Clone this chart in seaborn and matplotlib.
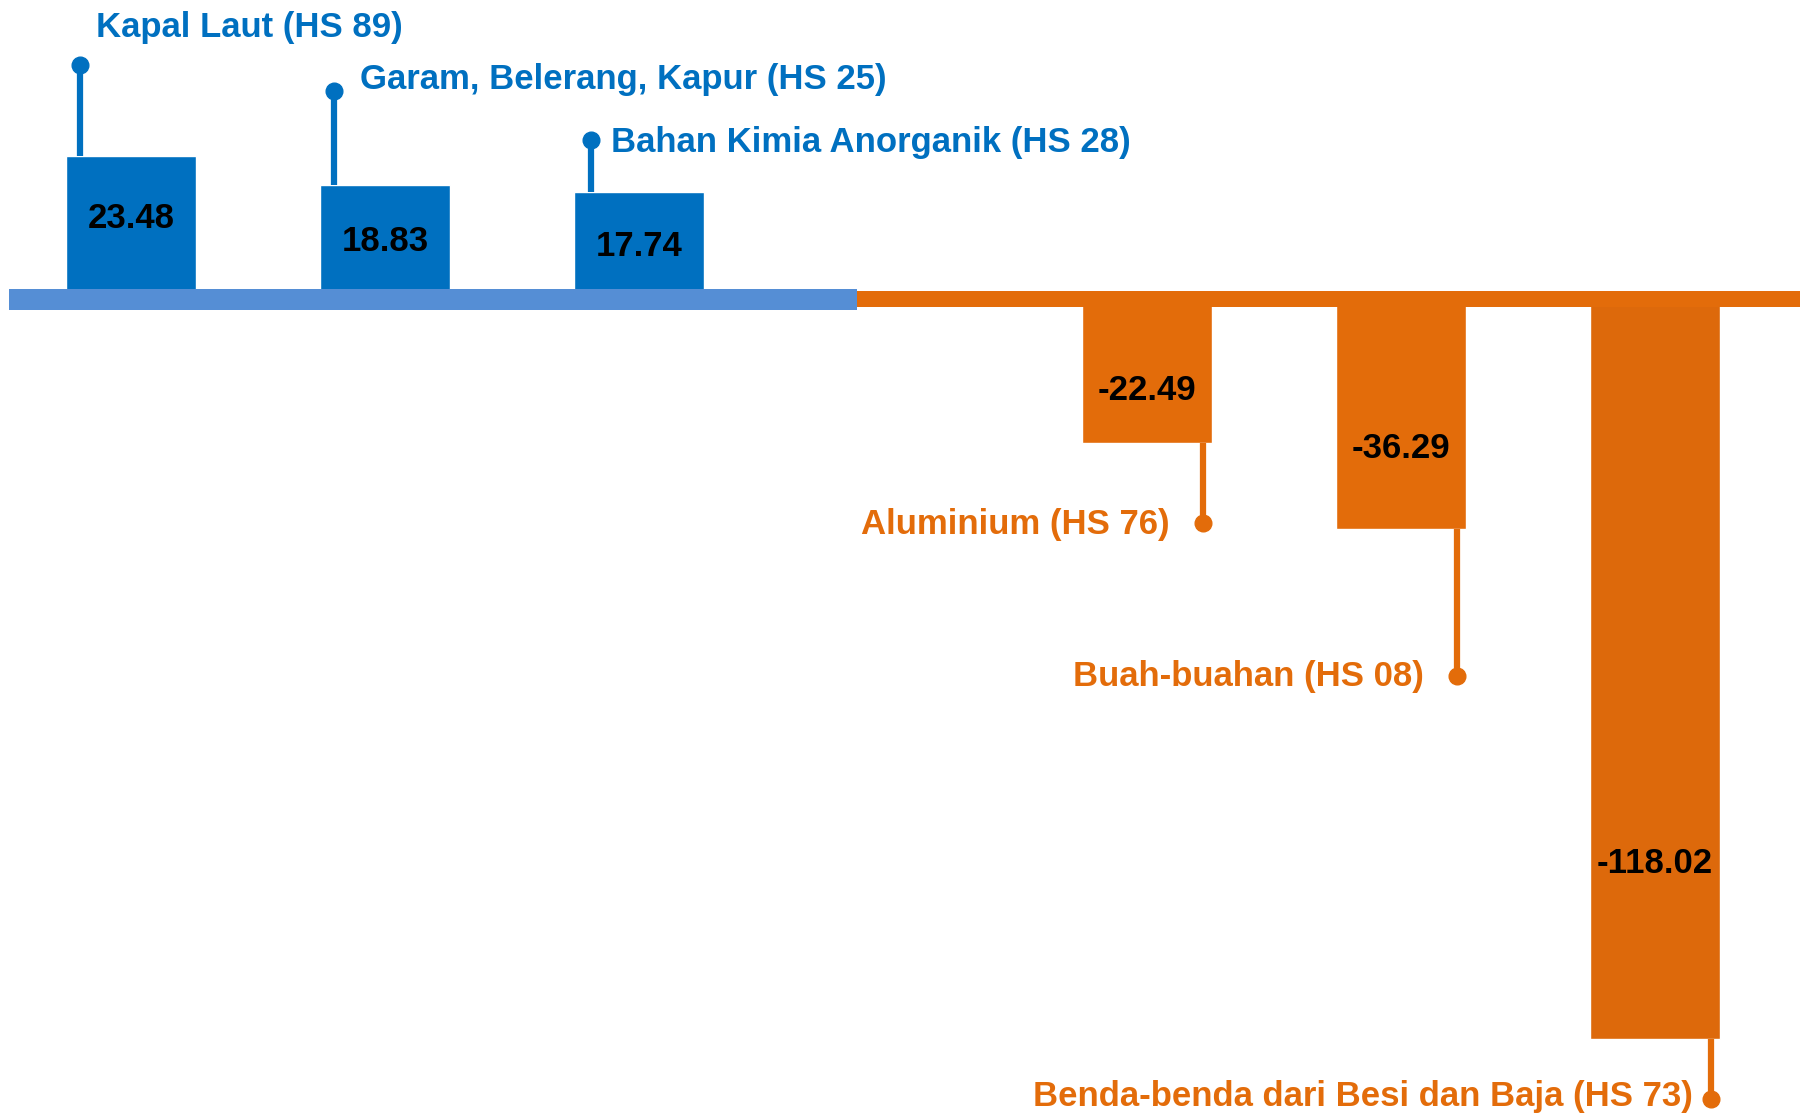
import pandas as pd
import matplotlib
matplotlib.use('Agg')
import matplotlib.pyplot as plt
import seaborn as sns

# Data neraca perdagangan per komoditas (juta US$)
produk = ['Kapal Laut (HS 89)', 'Garam, Belerang, Kapur (HS 25)', 'Bahan Kimia Anorganik (HS 28)',
          'Aluminium (HS 76)', 'Buah-buahan (HS 08)', 'Benda-benda dari Besi dan Baja (HS 73)']
nilai = [23.48, 18.83, 17.74, -22.49, -36.29, -118.02]
kelompok = ['surplus', 'surplus', 'surplus', 'defisit', 'defisit', 'defisit']

# Urutan kategori, dengan satu slot kosong di antara surplus dan defisit
urutan = produk[:3] + [' '] + produk[3:]

# Warna
biru = '#0070C0'
biru_muda = '#558ED5'
oranye = '#E36C0A'
warna_batang = dict(zip(produk, [biru, biru, biru, oranye, oranye, '#DD690B']))
warna_teks = {'surplus': biru, 'defisit': oranye}

# Tata letak anotasi: ujung garis penunjuk, posisi teks label, posisi angka di batang
titik_dx = [-0.20, -0.20, -0.19, 0.22, 0.22, 0.22]
titik_y = [38.1, 33.9, 26.0, -35.3, -59.9, -127.6]
teks_dx = [0.06, 0.10, 0.08, -0.13, -0.13, -0.07]
teks_y = [44.0, 35.8, 25.7, -35.6, -59.9, -127.3]
angka_frac = [0.57, 0.52, 0.51, 0.63, 0.645, 0.762]


def buat_grafik():
    df = pd.DataFrame({'produk': produk, 'nilai': nilai, 'kelompok': kelompok})

    sns.set_theme(style='white')
    plt.rcParams['font.family'] = ['Liberation Sans Narrow', 'Liberation Sans', 'DejaVu Sans']

    fig = plt.figure(figsize=(18.12, 11.19), dpi=100)
    ax = fig.add_axes([0, 0, 1, 1])

    sns.barplot(data=df, x='produk', y='nilai', hue='produk', order=urutan,
                palette=warna_batang, dodge=False, width=0.51, saturation=1,
                legend=False, ax=ax, zorder=1)

    # Garis dasar tebal (biru untuk surplus, oranye untuk defisit)
    ax.fill_between([-0.48, 2.86], -1.2, 2.16, color=biru_muda, lw=0, zorder=3)
    ax.fill_between([2.86, 6.57], -0.72, 1.84, color=oranye, lw=0, zorder=3)

    for i, p in enumerate(produk):
        pos = urutan.index(p)
        v = nilai[i]
        warna = warna_teks[kelompok[i]]

        # Angka di dalam batang
        ax.text(pos, v * angka_frac[i], f'{v:.2f}', ha='center', va='center',
                fontsize=25, fontweight='bold', color='black', zorder=4)

        # Garis penunjuk dengan titik di ujung
        xg = pos + titik_dx[i]
        ax.plot([xg, xg], [v, titik_y[i]], color=warna, lw=4.5, zorder=2,
                solid_capstyle='butt')
        ax.plot(xg, titik_y[i], 'o', color=warna, ms=12, zorder=2)

        # Label komoditas
        ha = 'left' if v > 0 else 'right'
        ax.text(xg + teks_dx[i], teks_y[i], p, ha=ha, va='center',
                fontsize=25, fontweight='bold', color=warna, zorder=4)

    ax.set_xlim(-0.516, 6.618)
    ax.set_ylim(-130.85, 48.48)
    ax.axis('off')

    fig.savefig('out.png', dpi=100)


if __name__ == "__main__":
    buat_grafik()
